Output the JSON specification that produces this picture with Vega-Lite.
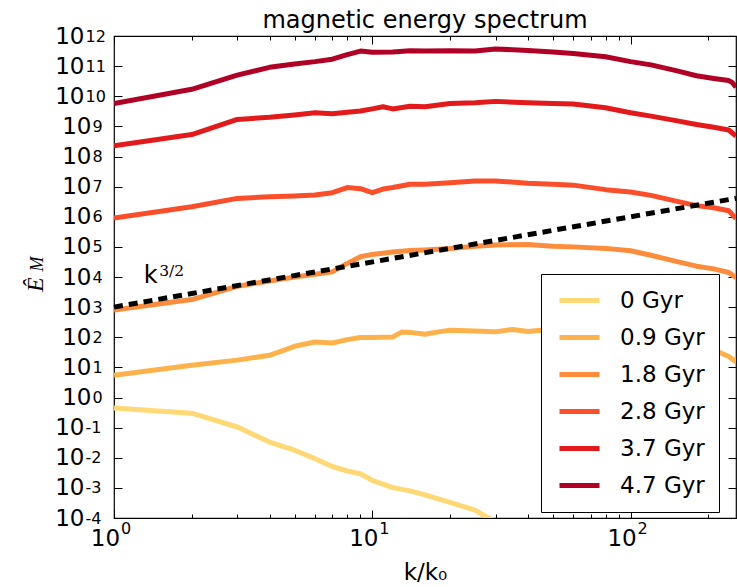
{
  "$schema": "https://vega.github.io/schema/vega-lite/v6.json",
  "width": 622,
  "height": 482,
  "autosize": {"type": "none"},
  "padding": {"left": 114, "top": 36, "right": 1, "bottom": 69},
  "background": "white",
  "title": {"text": "magnetic energy spectrum", "fontSize": 24, "font": "DejaVu Sans", "fontWeight": "normal", "color": "black", "offset": -27, "baseline": "alphabetic", "anchor": "middle"},
  "config": {"view": {"stroke": "black", "strokeWidth": 1.2}, "font": "DejaVu Sans", "axis": {"labelFont": "DejaVu Sans", "labelColor": "black", "labelFlush": false, "labelOverlap": false, "domain": false, "grid": false, "tickColor": "black", "tickWidth": 1}},
  "datasets": {
    "spectra": [
      {"k": 1, "E": 0.447, "series": "0 Gyr"}, {"k": 2, "E": 0.302, "series": "0 Gyr"}, {"k": 3, "E": 0.105, "series": "0 Gyr"}, {"k": 4, "E": 0.0331, "series": "0 Gyr"}, {"k": 5, "E": 0.0178, "series": "0 Gyr"}, {"k": 6, "E": 0.00933, "series": "0 Gyr"}, {"k": 7, "E": 0.00513, "series": "0 Gyr"}, {"k": 8, "E": 0.00363, "series": "0 Gyr"}, {"k": 9, "E": 0.00295, "series": "0 Gyr"}, {"k": 10, "E": 0.00178, "series": "0 Gyr"}, {"k": 12, "E": 0.00102, "series": "0 Gyr"}, {"k": 14, "E": 0.000794, "series": "0 Gyr"}, {"k": 16, "E": 0.000589, "series": "0 Gyr"}, {"k": 20, "E": 0.000331, "series": "0 Gyr"}, {"k": 25, "E": 0.000182, "series": "0 Gyr"}, {"k": 28, "E": 0.000102, "series": "0 Gyr"}, {"k": 32, "E": 0.0000631, "series": "0 Gyr"}, {"k": 40, "E": 0.0000316, "series": "0 Gyr"},
      {"k": 1, "E": 5.5, "series": "0.9 Gyr"}, {"k": 2, "E": 11.7, "series": "0.9 Gyr"}, {"k": 3, "E": 17.4, "series": "0.9 Gyr"}, {"k": 4, "E": 25.1, "series": "0.9 Gyr"}, {"k": 5, "E": 50.1, "series": "0.9 Gyr"}, {"k": 6, "E": 69.2, "series": "0.9 Gyr"}, {"k": 7, "E": 64.6, "series": "0.9 Gyr"}, {"k": 8, "E": 83.2, "series": "0.9 Gyr"}, {"k": 9, "E": 97.7, "series": "0.9 Gyr"}, {"k": 10, "E": 97.7, "series": "0.9 Gyr"}, {"k": 12, "E": 102, "series": "0.9 Gyr"}, {"k": 13, "E": 148, "series": "0.9 Gyr"}, {"k": 14, "E": 145, "series": "0.9 Gyr"}, {"k": 16, "E": 126, "series": "0.9 Gyr"}, {"k": 18, "E": 151, "series": "0.9 Gyr"}, {"k": 20, "E": 170, "series": "0.9 Gyr"}, {"k": 25, "E": 162, "series": "0.9 Gyr"}, {"k": 30, "E": 151, "series": "0.9 Gyr"}, {"k": 35, "E": 182, "series": "0.9 Gyr"}, {"k": 40, "E": 155, "series": "0.9 Gyr"}, {"k": 45, "E": 170, "series": "0.9 Gyr"}, {"k": 60, "E": 148, "series": "0.9 Gyr"}, {"k": 80, "E": 132, "series": "0.9 Gyr"}, {"k": 100, "E": 112, "series": "0.9 Gyr"}, {"k": 130, "E": 93.3, "series": "0.9 Gyr"}, {"k": 160, "E": 70.8, "series": "0.9 Gyr"}, {"k": 190, "E": 50.1, "series": "0.9 Gyr"}, {"k": 220, "E": 31.6, "series": "0.9 Gyr"}, {"k": 240, "E": 22.9, "series": "0.9 Gyr"}, {"k": 256, "E": 15.1, "series": "0.9 Gyr"},
      {"k": 1, "E": 794, "series": "1.8 Gyr"}, {"k": 2, "E": 1780, "series": "1.8 Gyr"}, {"k": 3, "E": 4900, "series": "1.8 Gyr"}, {"k": 4, "E": 7410, "series": "1.8 Gyr"}, {"k": 5, "E": 10000, "series": "1.8 Gyr"}, {"k": 6, "E": 12300, "series": "1.8 Gyr"}, {"k": 7, "E": 14800, "series": "1.8 Gyr"}, {"k": 8, "E": 28200, "series": "1.8 Gyr"}, {"k": 9, "E": 46800, "series": "1.8 Gyr"}, {"k": 10, "E": 56200, "series": "1.8 Gyr"}, {"k": 12, "E": 67600, "series": "1.8 Gyr"}, {"k": 14, "E": 75900, "series": "1.8 Gyr"}, {"k": 16, "E": 79400, "series": "1.8 Gyr"}, {"k": 20, "E": 89100, "series": "1.8 Gyr"}, {"k": 25, "E": 105000, "series": "1.8 Gyr"}, {"k": 30, "E": 115000, "series": "1.8 Gyr"}, {"k": 40, "E": 120000, "series": "1.8 Gyr"}, {"k": 50, "E": 105000, "series": "1.8 Gyr"}, {"k": 60, "E": 100000, "series": "1.8 Gyr"}, {"k": 80, "E": 89100, "series": "1.8 Gyr"}, {"k": 100, "E": 74100, "series": "1.8 Gyr"}, {"k": 120, "E": 52500, "series": "1.8 Gyr"}, {"k": 150, "E": 33100, "series": "1.8 Gyr"}, {"k": 180, "E": 22900, "series": "1.8 Gyr"}, {"k": 210, "E": 18600, "series": "1.8 Gyr"}, {"k": 240, "E": 14100, "series": "1.8 Gyr"}, {"k": 256, "E": 9550, "series": "1.8 Gyr"},
      {"k": 1, "E": 912000, "series": "2.8 Gyr"}, {"k": 2, "E": 2140000, "series": "2.8 Gyr"}, {"k": 3, "E": 4070000, "series": "2.8 Gyr"}, {"k": 4, "E": 4570000, "series": "2.8 Gyr"}, {"k": 5, "E": 4900000, "series": "2.8 Gyr"}, {"k": 6, "E": 5250000, "series": "2.8 Gyr"}, {"k": 7, "E": 6310000, "series": "2.8 Gyr"}, {"k": 8, "E": 9330000, "series": "2.8 Gyr"}, {"k": 9, "E": 8510000, "series": "2.8 Gyr"}, {"k": 10, "E": 6310000, "series": "2.8 Gyr"}, {"k": 11, "E": 8320000, "series": "2.8 Gyr"}, {"k": 12, "E": 9330000, "series": "2.8 Gyr"}, {"k": 14, "E": 12000000, "series": "2.8 Gyr"}, {"k": 16, "E": 12000000, "series": "2.8 Gyr"}, {"k": 20, "E": 13500000, "series": "2.8 Gyr"}, {"k": 25, "E": 15500000, "series": "2.8 Gyr"}, {"k": 30, "E": 15500000, "series": "2.8 Gyr"}, {"k": 40, "E": 12900000, "series": "2.8 Gyr"}, {"k": 50, "E": 12000000, "series": "2.8 Gyr"}, {"k": 60, "E": 11200000, "series": "2.8 Gyr"}, {"k": 80, "E": 7940000, "series": "2.8 Gyr"}, {"k": 100, "E": 6610000, "series": "2.8 Gyr"}, {"k": 120, "E": 5130000, "series": "2.8 Gyr"}, {"k": 150, "E": 3310000, "series": "2.8 Gyr"}, {"k": 180, "E": 2340000, "series": "2.8 Gyr"}, {"k": 210, "E": 2000000, "series": "2.8 Gyr"}, {"k": 240, "E": 1580000, "series": "2.8 Gyr"}, {"k": 256, "E": 871000, "series": "2.8 Gyr"},
      {"k": 1, "E": 2.29e8, "series": "3.7 Gyr"}, {"k": 2, "E": 5.37e8, "series": "3.7 Gyr"}, {"k": 3, "E": 1.7e9, "series": "3.7 Gyr"}, {"k": 4, "E": 2.0e9, "series": "3.7 Gyr"}, {"k": 5, "E": 2.4e9, "series": "3.7 Gyr"}, {"k": 6, "E": 2.82e9, "series": "3.7 Gyr"}, {"k": 7, "E": 2.63e9, "series": "3.7 Gyr"}, {"k": 8, "E": 2.95e9, "series": "3.7 Gyr"}, {"k": 9, "E": 3.24e9, "series": "3.7 Gyr"}, {"k": 10, "E": 3.8e9, "series": "3.7 Gyr"}, {"k": 11, "E": 4.47e9, "series": "3.7 Gyr"}, {"k": 12, "E": 3.8e9, "series": "3.7 Gyr"}, {"k": 14, "E": 4.68e9, "series": "3.7 Gyr"}, {"k": 16, "E": 4.47e9, "series": "3.7 Gyr"}, {"k": 20, "E": 5.75e9, "series": "3.7 Gyr"}, {"k": 25, "E": 6.03e9, "series": "3.7 Gyr"}, {"k": 30, "E": 6.76e9, "series": "3.7 Gyr"}, {"k": 40, "E": 6.03e9, "series": "3.7 Gyr"}, {"k": 50, "E": 5.75e9, "series": "3.7 Gyr"}, {"k": 60, "E": 5.5e9, "series": "3.7 Gyr"}, {"k": 80, "E": 4.17e9, "series": "3.7 Gyr"}, {"k": 100, "E": 2.82e9, "series": "3.7 Gyr"}, {"k": 120, "E": 2.19e9, "series": "3.7 Gyr"}, {"k": 150, "E": 1.55e9, "series": "3.7 Gyr"}, {"k": 180, "E": 1.15e9, "series": "3.7 Gyr"}, {"k": 210, "E": 9.33e8, "series": "3.7 Gyr"}, {"k": 240, "E": 7.59e8, "series": "3.7 Gyr"}, {"k": 256, "E": 4.79e8, "series": "3.7 Gyr"},
      {"k": 1, "E": 5.75e9, "series": "4.7 Gyr"}, {"k": 2, "E": 1.7e10, "series": "4.7 Gyr"}, {"k": 3, "E": 5.01e10, "series": "4.7 Gyr"}, {"k": 4, "E": 9.12e10, "series": "4.7 Gyr"}, {"k": 5, "E": 1.175e11, "series": "4.7 Gyr"}, {"k": 6, "E": 1.41e11, "series": "4.7 Gyr"}, {"k": 7, "E": 1.7e11, "series": "4.7 Gyr"}, {"k": 8, "E": 2.4e11, "series": "4.7 Gyr"}, {"k": 9, "E": 3.16e11, "series": "4.7 Gyr"}, {"k": 10, "E": 2.88e11, "series": "4.7 Gyr"}, {"k": 12, "E": 2.95e11, "series": "4.7 Gyr"}, {"k": 14, "E": 3.24e11, "series": "4.7 Gyr"}, {"k": 16, "E": 3.16e11, "series": "4.7 Gyr"}, {"k": 20, "E": 3.24e11, "series": "4.7 Gyr"}, {"k": 25, "E": 3.16e11, "series": "4.7 Gyr"}, {"k": 30, "E": 3.72e11, "series": "4.7 Gyr"}, {"k": 40, "E": 3.31e11, "series": "4.7 Gyr"}, {"k": 50, "E": 2.95e11, "series": "4.7 Gyr"}, {"k": 60, "E": 2.63e11, "series": "4.7 Gyr"}, {"k": 80, "E": 2.04e11, "series": "4.7 Gyr"}, {"k": 100, "E": 1.41e11, "series": "4.7 Gyr"}, {"k": 120, "E": 1.1e11, "series": "4.7 Gyr"}, {"k": 150, "E": 7.08e10, "series": "4.7 Gyr"}, {"k": 180, "E": 4.79e10, "series": "4.7 Gyr"}, {"k": 210, "E": 3.89e10, "series": "4.7 Gyr"}, {"k": 240, "E": 3.31e10, "series": "4.7 Gyr"}, {"k": 248, "E": 2.82e10, "series": "4.7 Gyr"}, {"k": 256, "E": 2.0e10, "series": "4.7 Gyr"}
    ],
    "fit": [{"k": 1, "E": 1000}, {"k": 256, "E": 4090000}]
  },
  "layer": [
    {
      "data": {"name": "spectra"},
      "mark": {"type": "line", "strokeWidth": 5, "clip": true, "strokeJoin": "round"},
      "encoding": {
        "x": {"field": "k", "type": "quantitative", "scale": {"type": "log", "domain": [1, 256], "nice": false},
          "axis": {"orient": "bottom", "offset": -8, "values": [1, 10, 100], "title": "k/k₀", "titleFontSize": 23, "titleFontWeight": "normal", "titleFont": "DejaVu Sans", "titleColor": "black", "titlePadding": 11,
            "labelExpr": "'10'", "labelFontSize": 23, "labelPadding": 9, "labelOffset": -9, "tickSize": 8}},
        "y": {"field": "E", "type": "quantitative", "scale": {"type": "log", "domain": [0.0001, 1000000000000], "nice": false},
          "axis": {"orient": "left", "offset": -8, "values": [1, 10, 100, 1000, 10000, 100000, 1000000, 10000000, 100000000, 1000000000], "title": null,
            "labelExpr": "'10'", "labelFontSize": 23, "labelPadding": 23, "tickSize": 8}},
        "color": {"field": "series", "type": "nominal",
          "scale": {"domain": ["0 Gyr", "0.9 Gyr", "1.8 Gyr", "2.8 Gyr", "3.7 Gyr", "4.7 Gyr"], "range": ["#fed976", "#feb24c", "#fd8d3c", "#fc4e2a", "#e31a1c", "#b10026"]},
          "legend": {"orient": "none", "legendX": 427, "legendY": 238, "title": null, "symbolType": "M-2,0H2", "symbolStrokeWidth": 5, "symbolSize": 400, "symbolOffset": 12, "labelFontSize": 23, "labelFont": "DejaVu Sans", "labelColor": "black", "labelOffset": 28, "rowPadding": 12, "padding": 14, "fillColor": "white", "strokeColor": "black", "cornerRadius": 0, "symbolOpacity": 1}}
      }
    },
    {
      "data": {"name": "fit"},
      "mark": {"type": "line", "color": "black", "strokeWidth": 5, "strokeDash": [9, 6], "strokeCap": "butt"},
      "encoding": {
        "x": {"field": "k", "type": "quantitative", "axis": {"orient": "top", "offset": -8, "minExtent": 0, "maxExtent": 0, "values": [1, 10, 100], "labels": false, "title": null, "tickSize": 8}},
        "y": {"field": "E", "type": "quantitative", "axis": {"orient": "right", "offset": -8, "minExtent": 0, "maxExtent": 0, "values": [0.0001, 0.001, 0.01, 0.1, 1, 10, 100, 1000, 10000, 100000, 1000000, 10000000, 100000000, 1000000000, 10000000000, 100000000000, 1000000000000], "labels": false, "title": null, "tickSize": 8}}
      }
    },
    {
      "data": {"values": [{}]},
      "mark": {"type": "text", "text": "k", "fontSize": 24, "font": "DejaVu Sans", "align": "left", "baseline": "alphabetic", "color": "black"},
      "encoding": {
        "x": {"datum": 1.304, "type": "quantitative", "axis": {"orient": "bottom", "offset": -4, "values": [2, 3, 4, 5, 6, 7, 8, 9, 20, 30, 40, 50, 60, 70, 80, 90, 200], "labels": false, "title": null, "tickSize": 4}},
        "y": {"datum": 6170, "type": "quantitative", "axis": {"orient": "left", "offset": -8, "values": [0.0001, 0.001, 0.01, 0.1, 10000000000, 100000000000, 1000000000000], "title": null, "labelExpr": "'10'", "labelFontSize": 23, "labelPadding": 30, "tickSize": 8}}
      }
    },
    {
      "data": {"values": [{}]},
      "mark": {"type": "text", "text": "3/2", "fontSize": 15.5, "font": "DejaVu Serif", "align": "left", "baseline": "alphabetic", "color": "black"},
      "encoding": {
        "x": {"datum": 1.497, "type": "quantitative", "axis": {"orient": "top", "offset": -4, "minExtent": 0, "maxExtent": 0, "values": [2, 3, 4, 5, 6, 7, 8, 9, 20, 30, 40, 50, 60, 70, 80, 90, 200], "labels": false, "title": null, "tickSize": 4}},
        "y": {"datum": 10800, "type": "quantitative", "axis": {"orient": "left", "offset": -8, "values": [1, 10, 100, 1000, 10000, 100000, 1000000, 10000000, 100000000, 1000000000], "title": null, "labelExpr": "toString(round(log(datum.value)/LN10))", "labelAlign": "left", "labelFontSize": 16, "labelPadding": 22, "labelDy": -9, "tickSize": 8, "tickOpacity": 0}}
      }
    },
    {
      "data": {"values": [{}]},
      "mark": {"type": "text", "text": "Ê", "fontSize": 24, "font": "Liberation Serif", "fontStyle": "italic", "angle": 270, "align": "center", "baseline": "middle", "color": "black"},
      "encoding": {
        "x": {"datum": 0.499, "type": "quantitative", "axis": {"orient": "bottom", "offset": -8, "values": [1, 10, 100], "title": null, "labelExpr": "toString(round(log(datum.value)/LN10))", "labelAlign": "left", "labelFontSize": 16, "labelPadding": 2.5, "labelOffset": 6.5, "tickSize": 8, "tickOpacity": 0}},
        "y": {"datum": 5550, "type": "quantitative", "axis": {"orient": "left", "offset": -8, "values": [0.0001, 0.001, 0.01, 0.1, 10000000000, 100000000000, 1000000000000], "title": null, "labelExpr": "toString(round(log(datum.value)/LN10))", "labelAlign": "left", "labelFontSize": 16, "labelPadding": 29, "labelDy": -9, "tickSize": 8, "tickOpacity": 0}}
      }
    },
    {
      "data": {"values": [{}]},
      "mark": {"type": "text", "text": "M", "fontSize": 18, "font": "Liberation Serif", "fontStyle": "italic", "angle": 270, "align": "center", "baseline": "middle", "color": "black"},
      "encoding": {
        "x": {"datum": 0.506, "type": "quantitative", "axis": null},
        "y": {"datum": 27000, "type": "quantitative", "axis": null}
      }
    }
  ],
  "resolve": {"axis": {"x": "independent", "y": "independent"}}
}
